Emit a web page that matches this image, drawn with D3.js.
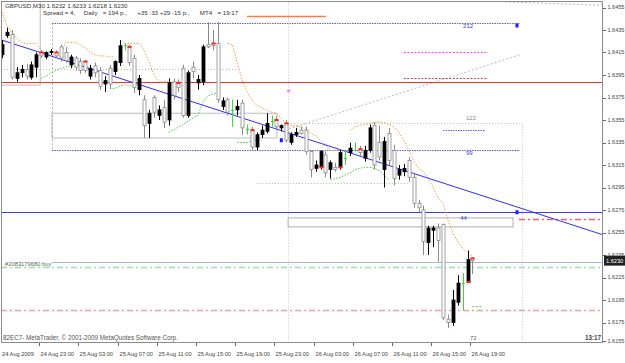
<!DOCTYPE html>
<html><head><meta charset="utf-8">
<script src="https://cdn.jsdelivr.net/npm/d3@7"></script>
<style>
body{margin:0;background:#fff;}
text{font-family:"Liberation Sans",Arial,sans-serif;}
</style>
</head><body>
<svg id="c" width="625" height="363"></svg>
<script>
// ---------- DATA ----------
const symbol = "GBPUSD,M30";
const headerOHLC = "1.6232 1.6233 1.6218 1.6230";
const headerInfo = "Spread = 4,     Daily   = 194 p.,      +35 :33 +29 -15 p.,      MT4   = 19:17";
const footerText = "82EC7- MetaTrader, © 2001-2009 MetaQuotes Software Corp.";
const firstLabel = "24 Aug 2009";
const tickBars = [8,16,24,32,40,48,56,64,72,80,88,96];
const tickLabels = ["24 Aug 23:00","25 Aug 03:00","25 Aug 07:00","25 Aug 11:00","25 Aug 15:00","25 Aug 19:00","25 Aug 23:00","26 Aug 03:00","26 Aug 07:00","26 Aug 11:00","26 Aug 15:00","26 Aug 19:00"];
const priceTicks = [1.6155,1.6175,1.6195,1.6215,1.6235,1.6255,1.6275,1.6295,1.6315,1.6335,1.6355,1.6375,1.6395,1.6415,1.6435,1.6455];

const open  = [1.6413,1.6430,1.6431,1.6392,1.6397,1.6400,1.6393,1.6402,1.6415,1.6411,1.6415,1.6415,1.6420,1.6415,1.6404,1.6410,1.6407,1.6407,1.6394,1.6403,1.6399,1.6387,1.6401,1.6398,1.6406,1.6422,1.6420,1.6410,1.6382,1.6373,1.6352,1.6375,1.6359,1.6366,1.6355,1.6389,1.6388,1.6401,1.6359,1.6402,1.6388,1.6389,1.6422,1.6423,1.6423,1.6367,1.6373,1.6364,1.6364,1.6370,1.6347,1.6346,1.6331,1.6342,1.6345,1.6354,1.6355,1.6348,1.6352,1.6335,1.6342,1.6346,1.6346,1.6327,1.6312,1.6313,1.6324,1.6311,1.6313,1.6313,1.6321,1.6326,1.6328,1.6329,1.6321,1.6328,1.6350,1.6335,1.6311,1.6343,1.6328,1.6306,1.6309,1.6319,1.6304,1.6281,1.6275,1.6246,1.6257,1.6259,1.6262,1.6178,1.6175,1.6193,1.6210,1.6211,1.6232];
const high  = [1.6426,1.6437,1.6435,1.6402,1.6404,1.6405,1.6407,1.6415,1.6417,1.6416,1.6418,1.6417,1.6422,1.6420,1.6413,1.6412,1.6410,1.6408,1.6404,1.6406,1.6402,1.6394,1.6404,1.6408,1.6426,1.6423,1.6422,1.6413,1.6395,1.6377,1.6364,1.6377,1.6368,1.6373,1.6392,1.6392,1.6391,1.6404,1.6399,1.6407,1.6395,1.6422,1.6442,1.6435,1.6442,1.6375,1.6375,1.6373,1.6373,1.6373,1.6351,1.6349,1.6344,1.6350,1.6361,1.6359,1.6358,1.6351,1.6355,1.6344,1.6348,1.6349,1.6349,1.6328,1.6319,1.6328,1.6327,1.6319,1.6317,1.6328,1.6328,1.6335,1.6335,1.6332,1.6332,1.6351,1.6353,1.6350,1.6340,1.6348,1.6333,1.6315,1.6316,1.6322,1.6307,1.6284,1.6279,1.6261,1.6261,1.6263,1.6263,1.6182,1.6204,1.6217,1.6219,1.6239,1.6233];
const low   = [1.6410,1.6428,1.6391,1.6389,1.6393,1.6391,1.6391,1.6393,1.6410,1.6409,1.6413,1.6410,1.6407,1.6406,1.6401,1.6399,1.6396,1.6397,1.6391,1.6393,1.6382,1.6380,1.6383,1.6395,1.6403,1.6417,1.6403,1.6379,1.6377,1.6339,1.6339,1.6357,1.6355,1.6348,1.6350,1.6373,1.6380,1.6357,1.6357,1.6392,1.6382,1.6386,1.6419,1.6417,1.6370,1.6364,1.6359,1.6349,1.6359,1.6342,1.6342,1.6328,1.6328,1.6339,1.6343,1.6349,1.6346,1.6345,1.6335,1.6333,1.6340,1.6342,1.6324,1.6304,1.6309,1.6311,1.6304,1.6303,1.6309,1.6311,1.6315,1.6323,1.6327,1.6323,1.6318,1.6326,1.6311,1.6319,1.6295,1.6315,1.6297,1.6302,1.6305,1.6300,1.6277,1.6273,1.6235,1.6235,1.6242,1.6229,1.6177,1.6170,1.6172,1.6190,1.6186,1.6210,1.6218];
const close = [1.6422,1.6433,1.6393,1.6397,1.6400,1.6394,1.6404,1.6413,1.6412,1.6415,1.6416,1.6412,1.6410,1.6408,1.6411,1.6402,1.6399,1.6399,1.6401,1.6397,1.6385,1.6390,1.6387,1.6407,1.6421,1.6422,1.6406,1.6384,1.6392,1.6350,1.6361,1.6362,1.6364,1.6353,1.6388,1.6377,1.6384,1.6359,1.6397,1.6398,1.6391,1.6420,1.6420,1.6421,1.6373,1.6372,1.6362,1.6364,1.6367,1.6348,1.6347,1.6331,1.6342,1.6346,1.6352,1.6354,1.6349,1.6350,1.6337,1.6342,1.6344,1.6343,1.6327,1.6311,1.6315,1.6327,1.6308,1.6317,1.6311,1.6326,1.6321,1.6330,1.6328,1.6326,1.6328,1.6348,1.6315,1.6322,1.6336,1.6319,1.6303,1.6311,1.6312,1.6304,1.6281,1.6277,1.6247,1.6259,1.6259,1.6248,1.6179,1.6175,1.6195,1.6210,1.6210,1.6231,1.6230];

// indicator bands (null = not drawn)
const orangeBand = [1.6451,1.6439,1.6433,1.6428,1.6424,1.6423,1.6423,1.6423,1.6417,1.6414,1.6413,1.6413,1.6413,1.6424,1.6424,1.6424,1.6422,1.6419,1.6415,1.6413,1.6412,1.6412,1.6411,1.6411,null,1.6423,1.6423,1.6423,1.6423,1.6417,1.6407,1.6395,1.6389,1.6389,1.6389,null,null,null,null,null,null,null,null,null,null,null,1.6423,1.6422,1.6406,1.6391,1.6380,1.6373,1.6368,1.6366,1.6364,1.6362,1.6361,1.6357,1.6352,1.6350,1.6350,1.6349,1.6346,1.6343,1.6341,1.6337,1.6333,1.6328,1.6328,1.6328,null,1.6346,1.6349,1.6350,1.6351,1.6352,1.6353,1.6353,1.6353,1.6351,1.6349,1.6344,1.6337,1.6328,1.6319,1.6312,1.6309,1.6303,1.6295,1.6286,1.6281,1.6266,1.6255,1.6247,1.6241,1.6237,1.6234];
const greenBand = [null,null,null,null,null,null,null,null,1.6392,1.6394,1.6397,1.6399,1.6401,1.6402,1.6403,1.6403,1.6404,null,null,null,null,null,1.6383,1.6383,1.6385,1.6386,1.6386,1.6384,null,null,null,null,null,null,1.6344,1.6346,1.6349,1.6351,1.6354,1.6357,1.6359,1.6371,1.6376,1.6378,1.6379,null,null,null,1.6335,1.6335,1.6335,1.6336,1.6337,1.6337,null,null,null,null,null,null,null,null,null,null,null,null,null,1.6302,1.6303,1.6304,1.6306,1.6308,1.6311,1.6312,1.6313,1.6313,1.6312,1.6310,1.6306,1.6302,null,null,null,null,null,null,null,null,null,null,null,null,null,null,null,null,null];
const redMarkBars = [8,11,17,26,36,43,51,56,58,65,69,73,95,96];

// chart objects
const trendAnchor = [[0,1.6426],[90,1.6299]];
const redLevel = 1.6389, blueLevel = 1.6273, bidPrice = 1.6230, orderPrice = 1.6229;
const greenDashLevel = 1.6224, redDashLevel = 1.6186;
const blueDotted = [[10.2,105.7,1.6441],[10.2,105.7,1.6328],[90,98.6,1.6346]];
const magentaDash = [82,99.2,1.6415];
const redShort = [82,99.2,1.6392];
const orangeSolid = [50,66.1,1.6447];
const grayDotH = [[-0.2,48.6,1.6400],[57.8,106.1,1.6352],[52,83.3,1.6299]];
const grayDotV = [[58.4,1.6462,1.6140],[106.1,1.6352,1.6140]];
const grayDashV = [10.2,1.6441,1.6328];
const grayRects = [[-0.2,7.8,1.6462,1.6386],[10.2,56.1,1.6361,1.6339]];
const grayBox = [58.4,104.3,1.6268,1.6260];
const redDashRight = [105.5,122.7,1.6267];
const grayDiag = [[57.8,1.6346,105.7,1.6413],[102.7,1.6460,122.7,1.6457]];
const blueDots = [[57,1.6337],[105.1,1.6273],[105.1,1.6439]];
const levelLabels = [["212",94.1,1.6439,"#3344dd"],["99",94.7,1.6326,"#3344dd"],["44",93.5,1.6268,"#3344dd"],["122",94.7,1.6357,"#888"]];
const greenShort = [96,97.8,1.6190];

// ---------- SCALES ----------
const svg = d3.select("#c");
const PL=1, PR=603, PT=1, PB=343;
const x = d3.scaleLinear().domain([0,96]).range([2,472.4]);
const y = d3.scaleLinear().domain([1.6155,1.6455]).range([345,7.5]);
const xMin = x.invert(PL), xMax = x.invert(PR);

svg.append("rect").attr("width",625).attr("height",363).attr("fill","#fff");
svg.append("clipPath").attr("id","clip").append("rect").attr("x",PL).attr("y",PT).attr("width",PR-PL).attr("height",PB-PT);
const g = svg.append("g").attr("clip-path","url(#clip)");

function hline(x1,x2,p,color,dash,w){
  g.append("line").attr("x1",x(x1)).attr("x2",x(x2)).attr("y1",Math.round(y(p))+0.5).attr("y2",Math.round(y(p))+0.5)
   .attr("stroke",color).attr("stroke-width",w||1).attr("stroke-dasharray",dash||null);
}
function vline(b,p1,p2,color,dash){
  g.append("line").attr("x1",Math.round(x(b))+0.5).attr("x2",Math.round(x(b))+0.5).attr("y1",y(p1)).attr("y2",y(p2))
   .attr("stroke",color).attr("stroke-width",1).attr("stroke-dasharray",dash||null);
}

// gray objects
grayRects.forEach(r=>{
  g.append("rect").attr("x",x(r[0])).attr("y",y(r[2])).attr("width",x(r[1])-x(r[0])).attr("height",y(r[3])-y(r[2]))
   .attr("fill","none").attr("stroke","#bcbcbc");
});
g.append("rect").attr("x",x(grayBox[0])).attr("y",y(grayBox[2])).attr("width",x(grayBox[1])-x(grayBox[0])).attr("height",y(grayBox[3])-y(grayBox[2]))
 .attr("fill","#fff").attr("stroke","#bcbcbc").attr("stroke-width",1.2);
grayDotH.forEach(d=>hline(d[0],d[1],d[2],"#b8b8b8","1,2"));
grayDotV.forEach(d=>vline(d[0],d[1],d[2],"#c4c4c4","1,2"));
vline(grayDashV[0],grayDashV[1],grayDashV[2],"#b0b0b0","2,2");
grayDiag.forEach(d=>{
  g.append("line").attr("x1",x(d[0])).attr("y1",y(d[1])).attr("x2",x(d[2])).attr("y2",y(d[3]))
   .attr("stroke","#bbb").attr("stroke-dasharray","2,2");
});

// level lines
hline(xMin,xMax,redLevel,"#ff2a2a");
hline(xMin,xMax,blueLevel,"#3a3aff");
hline(xMin,xMax,greenDashLevel,"#9ee09e","6,3,2,3",1.5);
hline(xMin,xMax,redDashLevel,"#ff9a9a","6,3,2,3",1.5);
hline(redDashRight[0],redDashRight[1],redDashRight[2],"#ee6060","6,3,2,3",1.5);
hline(10.2,xMax,orderPrice,"#aab6cc");
blueDotted.forEach(d=>hline(d[0],d[1],d[2],"#5a5aff","1.5,1",1.1));
hline(magentaDash[0],magentaDash[1],magentaDash[2],"#ff44ff","2,1.5",1);
hline(redShort[0],redShort[1],redShort[2],"#d04040","2,1.5",1);
hline(orangeSolid[0],orangeSolid[1],orangeSolid[2],"#f08050",null,1.5);
hline(greenShort[0],greenShort[1],greenShort[2],"#5cd65c","2,1.5",1);

// indicator bands
const bandLine = d3.line().defined(d=>d!=null).x((d,i)=>x(i)).y(d=>y(d));
g.append("path").attr("d",bandLine(orangeBand)).attr("fill","none").attr("stroke","#f0a040").attr("stroke-dasharray","1.5,1.5");
g.append("path").attr("d",bandLine(greenBand)).attr("fill","none").attr("stroke","#40d040").attr("stroke-dasharray","1.5,1.5");

// trendline
const slope = (trendAnchor[1][1]-trendAnchor[0][1])/(trendAnchor[1][0]-trendAnchor[0][0]);
const tp = b=>trendAnchor[0][1]+slope*(b-trendAnchor[0][0]);
g.append("line").attr("x1",x(xMin)).attr("y1",y(tp(xMin))).attr("x2",x(xMax)).attr("y2",y(tp(xMax)))
 .attr("stroke","#2e2eff").attr("stroke-width",1);

// candles
const bars = d3.range(open.length).map(i=>({i,o:open[i],h:high[i],l:low[i],c:close[i]}));
const cg = g.append("g");
bars.forEach(b=>{
  const cx = Math.round(x(b.i))+0.5;
  if (b.o===b.c){
    cg.append("line").attr("x1",cx).attr("x2",cx).attr("y1",y(b.h)).attr("y2",y(b.l)).attr("stroke","#33dd33");
    cg.append("line").attr("x1",cx-1.5).attr("x2",cx+1.5).attr("y1",Math.round(y(b.o))+0.5).attr("y2",Math.round(y(b.o))+0.5).attr("stroke","#33dd33");
    return;
  }
  const bull = b.c>b.o;
  const col = bull?"#000":"#8a8a8a";
  cg.append("line").attr("x1",cx).attr("x2",cx).attr("y1",y(b.h)).attr("y2",y(b.l)).attr("stroke",col);
  const yt = y(Math.max(b.o,b.c)), yb = y(Math.min(b.o,b.c));
  cg.append("rect").attr("x",cx-1.5).attr("y",yt).attr("width",3).attr("height",Math.max(1,yb-yt))
    .attr("fill",bull?"#000":"#fff").attr("stroke",col).attr("stroke-width",0.8);
});
redMarkBars.forEach(i=>{
  cg.append("rect").attr("x",Math.round(x(i))-1.5).attr("y",y(open[i])-1).attr("width",4).attr("height",2).attr("fill","#ff2020");
});

// dots and labels
blueDots.forEach(d=>{
  g.append("rect").attr("x",x(d[0])-1.5).attr("y",y(d[1])-2).attr("width",3).attr("height",4).attr("fill","#1a1aff");
});
levelLabels.forEach(l=>{
  g.append("text").attr("x",x(l[1])).attr("y",y(l[2])).attr("dy","0.35em").attr("font-size",6).attr("fill",l[3]).text(l[0]);
});
g.append("text").attr("x",5).attr("y",y(orderPrice)).attr("dy","0.75em").attr("font-size",5.8).attr("fill","#666").text("#2083179680 buy");
g.append("rect").attr("x",x(58.4)-1).attr("y",y(1.6381)-1).attr("width",3).attr("height",2).attr("fill","#ff66ff");

// header
g.append("text").attr("x",5).attr("y",8).attr("font-size",6.2).attr("fill","#333").text(symbol+"  "+headerOHLC);
g.append("text").attr("x",43).attr("y",15).attr("font-size",6.2).attr("fill","#333").attr("xml:space","preserve").style("white-space","pre").text(headerInfo);
// footer
g.append("text").attr("x",3).attr("y",340).attr("font-size",6.3).attr("fill","#555").text(footerText);
g.append("text").attr("x",x(95.5)).attr("y",340).attr("font-size",6).attr("fill","#666").text("72");
g.append("text").attr("x",601).attr("y",340).attr("text-anchor","end").attr("font-size",6.3).attr("font-weight","bold").attr("fill","#444").text("13:17");

// frame
svg.append("rect").attr("x",PL+0.5).attr("y",PT+0.5).attr("width",PR-PL-1).attr("height",PB-PT-1).attr("fill","none").attr("stroke","#8c8c8c");

// price axis
const ax = svg.append("g");
priceTicks.forEach(p=>{
  const yy = Math.min(y(p),341);
  ax.append("line").attr("x1",PR).attr("x2",PR+3).attr("y1",Math.round(yy)+0.5).attr("y2",Math.round(yy)+0.5).attr("stroke","#666");
  ax.append("text").attr("x",PR+4.5).attr("y",yy).attr("dy","0.35em").attr("font-size",5.5).attr("fill","#444").text(p.toFixed(4));
});
const by = y(bidPrice);
ax.append("rect").attr("x",PR+1).attr("y",by-5).attr("width",21).attr("height",10).attr("fill","#222");
ax.append("text").attr("x",PR+3).attr("y",by).attr("dy","0.35em").attr("font-size",5.6).attr("fill","#fff").text(bidPrice.toFixed(4));

// time axis
const tx = svg.append("g");
tx.append("text").attr("x",x(0)).attr("y",356).attr("font-size",5.7).attr("fill","#444").text(firstLabel);
tickBars.forEach((b,k)=>{
  const xx = Math.round(x(b))-1.5;
  tx.append("line").attr("x1",xx).attr("x2",xx).attr("y1",PB).attr("y2",PB+3).attr("stroke","#666");
  tx.append("text").attr("x",xx+1).attr("y",356).attr("font-size",5.7).attr("fill","#444").text(tickLabels[k]);
});
</script>
</body></html>
